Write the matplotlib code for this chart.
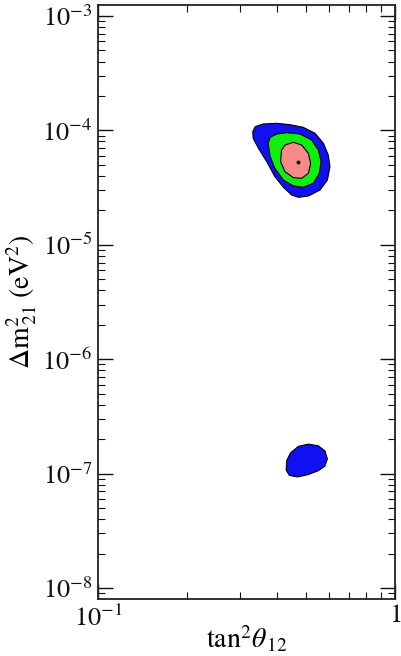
import matplotlib
matplotlib.use('Agg')
import matplotlib.pyplot as plt
from matplotlib.ticker import FixedLocator, FixedFormatter, LogLocator, NullFormatter

# contour outlines: (tan^2 theta12, dm^2_21 in eV^2)
blue_tan2 = [0.332, 0.338, 0.360, 0.400, 0.443, 0.491, 0.538, 0.574, 0.596, 0.604,
             0.592, 0.559, 0.511, 0.473, 0.449, 0.421, 0.394, 0.370, 0.347, 0.333]
blue_dm2 = [9.74e-5, 1.077e-4, 1.138e-4, 1.153e-4, 1.122e-4, 1.064e-4, 9.43e-5, 7.71e-5, 6.10e-5, 4.82e-5,
            3.68e-5, 3.01e-5, 2.67e-5, 2.60e-5, 2.72e-5, 3.18e-5, 3.94e-5, 5.33e-5, 6.97e-5, 8.53e-5]

green_tan2 = [0.374, 0.380, 0.400, 0.432, 0.479, 0.524, 0.552, 0.564,
              0.556, 0.531, 0.491, 0.455, 0.421, 0.394, 0.380]
green_dm2 = [7.71e-5, 8.71e-5, 9.30e-5, 9.55e-5, 9.30e-5, 8.24e-5, 6.74e-5, 5.33e-5,
             4.22e-5, 3.45e-5, 3.18e-5, 3.27e-5, 3.68e-5, 4.66e-5, 5.89e-5]

pink_tan2 = [0.415, 0.426, 0.455, 0.485, 0.511, 0.520, 0.511, 0.485, 0.455, 0.426, 0.412]
pink_dm2 = [6.74e-5, 7.45e-5, 7.87e-5, 7.45e-5, 6.30e-5, 5.16e-5, 4.22e-5, 3.81e-5, 3.86e-5, 4.36e-5, 5.33e-5]

low_tan2 = [0.430, 0.432, 0.445, 0.473, 0.511, 0.552, 0.581, 0.592, 0.580, 0.552, 0.510, 0.470, 0.441]
low_dm2 = [1.075e-7, 1.30e-7, 1.52e-7, 1.73e-7, 1.81e-7, 1.75e-7, 1.58e-7, 1.34e-7,
           1.16e-7, 1.06e-7, 9.80e-8, 9.35e-8, 9.65e-8]

best_tan2 = 0.470
best_dm2 = 5.33e-5

x_ticks = [0.1, 1.0]
x_tick_labels = [r'$10^{-1}$', r'$1$']
y_ticks = [1e-8, 1e-7, 1e-6, 1e-5, 1e-4, 1e-3]
y_tick_labels = [r'$10^{-8}$', r'$10^{-7}$', r'$10^{-6}$', r'$10^{-5}$', r'$10^{-4}$', r'$10^{-3}$']

plt.rcParams['font.family'] = ['Liberation Serif', 'DejaVu Serif']
plt.rcParams['mathtext.fontset'] = 'stix'

fig = plt.figure(figsize=(4.01, 6.56), dpi=100)
ax = fig.add_axes([98 / 401, 1 - 599 / 656, 297 / 401, 594 / 656])

ax.set_xscale('log')
ax.set_yscale('log')
ax.set_xlim(0.1, 1.0)
ax.set_ylim(10 ** -8.096, 10 ** -2.904)

edge = dict(edgecolor='black', linewidth=0.8, joinstyle='round')
ax.fill(blue_tan2, blue_dm2, facecolor='#1010f0', **edge)
ax.fill(green_tan2, green_dm2, facecolor='#10f010', **edge)
ax.fill(pink_tan2, pink_dm2, facecolor='#f58a88', **edge)
ax.fill(low_tan2, low_dm2, facecolor='#1010f0', **edge)
ax.plot([best_tan2], [best_dm2], 'o', color='black', markersize=1.8)

ax.xaxis.set_major_locator(FixedLocator(x_ticks))
ax.xaxis.set_major_formatter(FixedFormatter(x_tick_labels))
ax.xaxis.set_minor_locator(LogLocator(base=10, subs=range(2, 10)))
ax.xaxis.set_minor_formatter(NullFormatter())
ax.yaxis.set_major_locator(FixedLocator(y_ticks))
ax.yaxis.set_major_formatter(FixedFormatter(y_tick_labels))
ax.yaxis.set_minor_locator(LogLocator(base=10, subs=range(2, 10), numticks=20))
ax.yaxis.set_minor_formatter(NullFormatter())

ax.tick_params(which='both', direction='in', top=True, right=True, labelsize=19, colors='#111111')
ax.tick_params(which='major', length=11, width=1.0, pad=4)
ax.tick_params(which='minor', length=5, width=0.8)
for s in ax.spines.values():
    s.set_linewidth(1.3)
    s.set_color('#222222')

ax.set_xlabel(r'$\mathrm{tan}^2\theta_{\,12}$', fontsize=20, labelpad=-5)
ax.set_ylabel(r'$\Delta\mathrm{m}^2_{\,21}\ (\mathrm{eV}^2)$', fontsize=20, labelpad=2)

fig.savefig('out.png', dpi=100)
